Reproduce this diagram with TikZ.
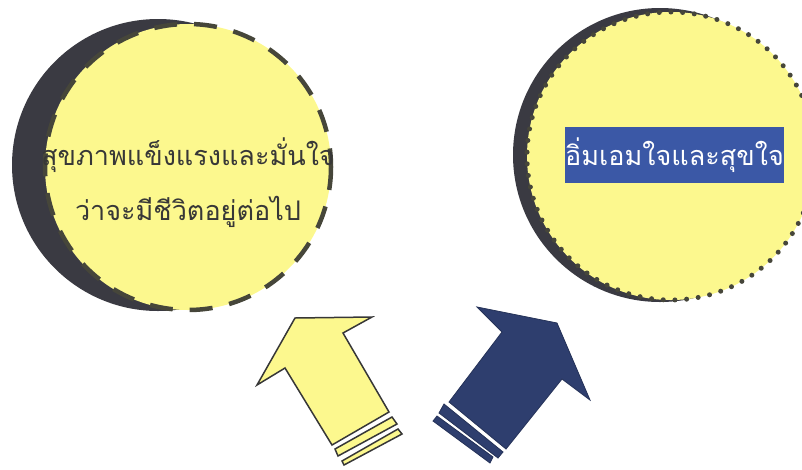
\documentclass[tikz,border=0pt]{standalone}
\usepackage{fontspec}
\newfontfamily\thaifont[Script=Thai]{Loma}
\definecolor{cyellow}{RGB}{252,248,142}
\definecolor{cshadow}{RGB}{58,58,66}
\definecolor{cdash}{RGB}{70,70,58}
\definecolor{cnavy}{RGB}{46,62,110}
\definecolor{cbox}{RGB}{59,88,166}
\definecolor{ctext}{RGB}{55,55,55}
\tikzset{
  shadowdisc/.style={fill=cshadow},
  yellowdisc/.style={fill=cyellow},
  dashring/.style={draw=cdash, line width=4.5pt, dash pattern=on 23pt off 17pt},
  dotring/.style={draw=cdash, line width=5pt, line cap=round, dash pattern=on 0pt off 11.7pt},
  thaitext/.style={font=\thaifont\fontsize{27}{30}\selectfont, text=ctext, inner sep=0pt},
  yarrow/.style={fill=cyellow, draw=ctext, line width=1.5pt, line join=miter},
  narrow/.style={fill=cnavy, draw=cnavy!80!black, line width=0.8pt, line join=miter},
}
\begin{document}
\begin{tikzpicture}[x=1pt,y=-1pt]
\useasboundingbox (0,0) rectangle (802,469);
% left circle
\fill[shadowdisc] (158,165) circle (146);
\fill[yellowdisc] (188,167) circle (143);
\draw[dashring] (188,167) circle (143);
\node[thaitext] (l1) at (188,155) {สุขภาพแข็งแรงและมั่นใจ};
\node[thaitext] (l2) at (188,212) {ว่าจะมีชีวิตอยู่ต่อไป};
% right circle
\begin{scope}
\clip (0,0) rectangle (802,469);
\fill[shadowdisc] (660,155) circle (147);
\fill[yellowdisc] (671,156) circle (144);
\draw[dotring] (671,156) circle (144);
\end{scope}
\node[fill=cbox, minimum width=209pt, minimum height=56pt, inner sep=0pt,
      font=\thaifont\fontsize{27}{30}\selectfont, text=white] (r1) at (674.5,155) {อิ่มเอมใจและสุขใจ};
% yellow arrow
\draw[yarrow] (295,318) -- (372,317) -- (343,333) -- (389,412) -- (332,445) -- (285,368) -- (257,385) -- cycle;
\draw[yarrow] (335,449) -- (392,417) -- (397,424) -- (338,456) -- cycle;
\draw[yarrow] (342,461) -- (398,429) -- (402,434) -- (344,465) -- cycle;
% navy arrow
\draw[narrow] (557,323) -- (590,400) -- (562,379) -- (506,449) -- (449,402) -- (502,332) -- (477,307) -- cycle;
\draw[narrow] (444,404) -- (503,452) -- (498,458) -- (439,413) -- cycle;
\draw[narrow] (437,416) -- (493,457) -- (490,463) -- (433,421) -- cycle;
\end{tikzpicture}
\end{document}
